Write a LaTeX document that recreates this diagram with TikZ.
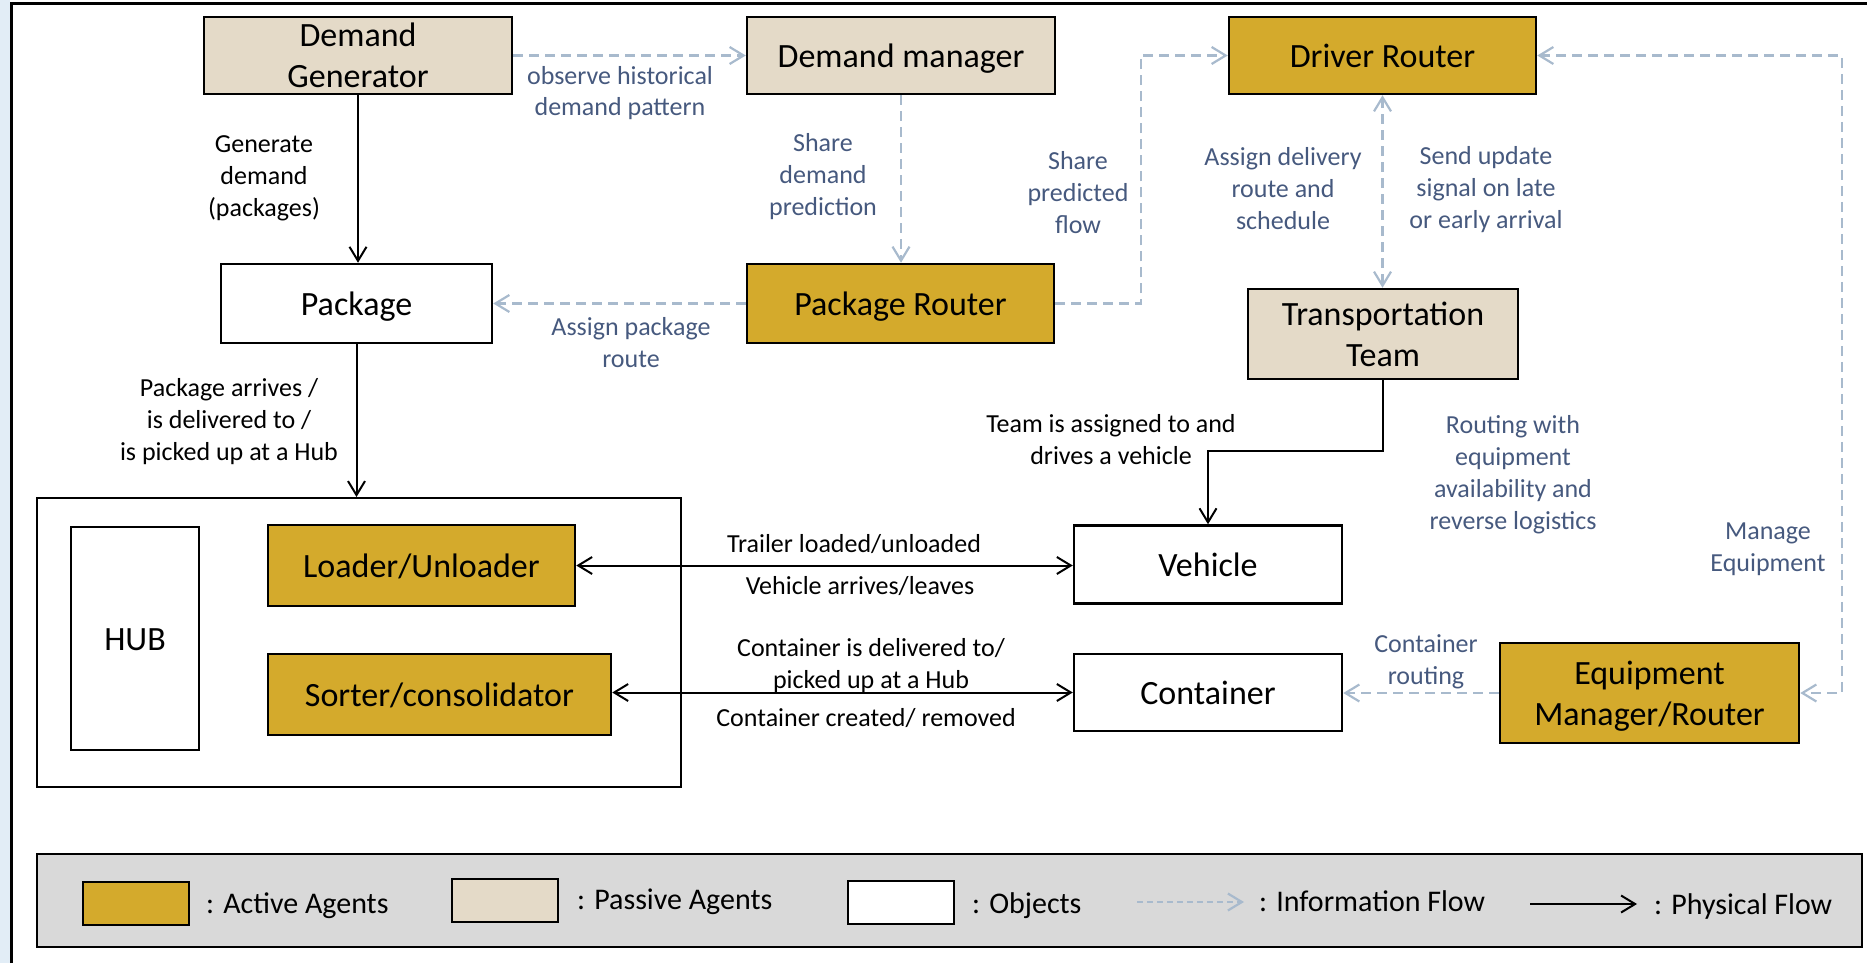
\documentclass[tikz,border=0pt]{standalone}
\usepackage{fontspec}
\setmainfont{Carlito}
\usetikzlibrary{arrows.meta}

\definecolor{activegold}{HTML}{D4AA2C}
\definecolor{passivebeige}{HTML}{E4DAC8}
\definecolor{infoline}{HTML}{A8BACD}
\definecolor{infotext}{HTML}{46597E}
\definecolor{legendgray}{HTML}{D9D9D9}
\definecolor{edgeblue}{HTML}{E2EDF6}

\tikzset{
  boxbase/.style={draw=black, line width=2.5pt, inner sep=0pt, align=center,
    font=\fontsize{34pt}{41pt}\selectfont, text height=24pt, text depth=0pt},
  twolines/.style={text height=65pt},
  active/.style={boxbase, fill=activegold},
  passive/.style={boxbase, fill=passivebeige},
  object/.style={boxbase, fill=white},
  phys/.style={draw=black, line width=2pt, -{Straight Barb[length=14pt,width=17pt]}},
  physboth/.style={draw=black, line width=2pt,
    {Straight Barb[length=14pt,width=17pt]}-{Straight Barb[length=14pt,width=17pt]}},
  info/.style={draw=infoline, line width=2.2pt, dash pattern=on 10pt off 6pt,
    -{Straight Barb[length=14pt,width=17pt]}},
  infoboth/.style={draw=infoline, line width=2.2pt, dash pattern=on 10pt off 6pt,
    {Straight Barb[length=14pt,width=17pt]}-{Straight Barb[length=14pt,width=17pt]}},
  lbl/.style={inner sep=0pt, align=center, text=black,
    font=\fontsize{26pt}{32pt}\selectfont, text height=18pt, text depth=2pt},
  ilbl/.style={lbl, text=infotext},
  ln2/.style={text height=50pt},
  ln3/.style={text height=82pt},
  ln4/.style={text height=114pt},
  legtext/.style={inner sep=0pt, anchor=west, text=black,
    font=\fontsize{30pt}{34pt}\selectfont, text height=21pt, text depth=7pt},
  swatch/.style={draw=black, line width=2pt, minimum width=106pt, minimum height=43pt, inner sep=0pt}
}

\begin{document}
\begin{tikzpicture}[x=1pt, y=-1pt]
\useasboundingbox (0,0) rectangle (1867,963);

% soft strip along the left edge and the outer frame
\fill[edgeblue] (0,0) rectangle (10,963);
\draw[line width=3pt] (11,963) -- (11,4) -- (1867,4);

% agents and objects
\node[passive, twolines, minimum width=308pt, minimum height=77pt] (dg) at (358,55.5) {Demand\\Generator};
\node[passive, minimum width=308pt, minimum height=77pt] (dm) at (901,55.5) {Demand manager};
\node[active,  minimum width=307pt, minimum height=77pt] (dr) at (1382.5,55.5) {Driver Router};
\node[object,  minimum width=271pt, minimum height=79pt] (pkg) at (356.5,303.5) {Package};
\node[active,  minimum width=307pt, minimum height=79pt] (pr) at (900.5,303.5) {Package Router};
\node[passive, twolines, minimum width=270pt, minimum height=90pt] (tt) at (1383,334) {Transportation\\Team};

% hub with its internal agents
\node[draw=black, line width=2pt, minimum width=644pt, minimum height=289pt, inner sep=0pt] (hubframe) at (359,642.5) {};
\node[object, line width=2pt, minimum width=128pt, minimum height=223pt] (hub) at (135,638.5) {HUB};
\node[active, minimum width=307pt, minimum height=81pt] (lu) at (421.5,565.5) {Loader/Unloader};
\node[active, minimum width=343pt, minimum height=81pt] (sc) at (439.5,694.5) {Sorter/consolidator};

\node[object, minimum width=268pt, minimum height=78pt] (veh) at (1208,564.5) {Vehicle};
\node[object, minimum width=268pt, minimum height=77pt] (cont) at (1208,692.5) {Container};
\node[active, twolines, minimum width=299pt, minimum height=100pt] (em) at (1649.5,693) {Equipment\\Manager/Router};

% information flows
\draw[info] (dg.east) -- (dm.west);
\draw[info] (dm.south) -- (dm.south |- pr.north);
\draw[info] (pr.west) -- (pkg.east);
\coordinate (prbend) at (1141,303.5);
\draw[info] (pr.east) -- (prbend) |- (dr.west);
\draw[infoboth] (dr.south) -- (dr.south |- tt.north);
\coordinate (emtop) at (1842,55.5);
\coordinate (embot) at (1842,693);
\draw[infoboth] (dr.east) -- (emtop) -- (embot) -- (em.east);
\draw[info] (em.west) -- (em.west -| cont.east);

% physical flows
\draw[phys] (dg.south) -- (dg.south |- pkg.north);
\draw[phys] (pkg.south) -- (pkg.south |- hubframe.north);
\coordinate (ttbend) at (1383,451);
\draw[phys] (tt.south) -- (ttbend) -| (veh.north);
\draw[physboth] (lu.east) -- (lu.east -| veh.west);
\draw[physboth] (sc.east |- cont.west) -- (cont.west);

% flow labels
\node[ilbl, ln2] (l1) at (620,92) {observe historical\\demand pattern};
\node[lbl, ln3]  (l2) at (264,176) {Generate\\demand\\(packages)};
\node[ilbl, ln3] (l3) at (823,175) {Share\\demand\\prediction};
\node[ilbl, ln2] (l4) at (631,343) {Assign package\\route};
\node[ilbl, ln3] (l5) at (1078,193) {Share\\predicted\\flow};
\node[ilbl, ln3] (l6) at (1283,189) {Assign delivery\\route and\\schedule};
\node[ilbl, ln3] (l7) at (1486,188) {Send update\\signal on late\\or early arrival};
\node[ilbl, ln2] (l8) at (1768,547) {Manage\\Equipment};
\node[ilbl, ln2] (l9) at (1426,660) {Container\\routing};
\node[ilbl, ln4] (l10) at (1513,473) {Routing with\\equipment\\availability and\\reverse logistics};
\node[lbl, ln3]  (l11) at (229,420) {Package arrives /\\is delivered to /\\is picked up at a Hub};
\node[lbl, ln2]  (l12) at (1111,440) {Team is assigned to and\\drives a vehicle};
\node[lbl]  (l13) at (854,544) {Trailer loaded/unloaded};
\node[lbl]  (l14) at (860,586) {Vehicle arrives/leaves};
\node[lbl, ln2]  (l15) at (871,664) {Container is delivered to/\\picked up at a Hub};
\node[lbl]  (l16) at (866,718) {Container created/ removed};

% legend
\node[draw=black, line width=2pt, fill=legendgray, minimum width=1825pt, minimum height=93pt, inner sep=0pt] (legend) at (949.5,900.5) {};
\node[swatch, fill=activegold] (swa) at (136,903) {};
\node[legtext] (lga) at (206,906) {: Active Agents};
\node[swatch, fill=passivebeige] (swp) at (505,900) {};
\node[legtext] (lgp) at (577,902) {: Passive Agents};
\node[swatch, fill=white] (swo) at (901,902.5) {};
\node[legtext] (lgo) at (972,906) {: Objects};
\coordinate (infoa) at (1137,902);
\coordinate (infob) at (1244,902);
\draw[info, dash pattern=on 6pt off 4pt] (infoa) -- (infob);
\node[legtext] (lgi) at (1259,904.5) {: Information Flow};
\coordinate (physa) at (1530,904);
\coordinate (physb) at (1637,904);
\draw[phys] (physa) -- (physb);
\node[legtext] (lgf) at (1654,907) {: Physical Flow};
\end{tikzpicture}
\end{document}
